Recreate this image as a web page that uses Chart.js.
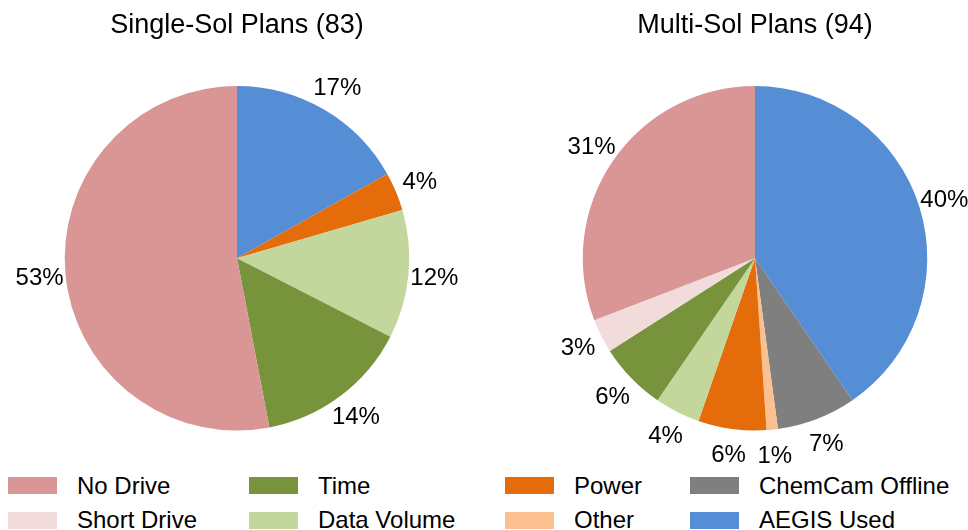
<!DOCTYPE html>
<html>
<head>
<meta charset="utf-8">
<script src="https://cdn.jsdelivr.net/npm/chart.js@4/dist/chart.umd.min.js"></script>
<style>
  html, body { margin: 0; padding: 0; background: #fff; }
  body { width: 968px; height: 530px; position: relative; overflow: hidden; font-family: "Liberation Sans", Arial, sans-serif; }
  .pie { position: absolute; top: 0; width: 484px; height: 470px; }
  #legend .item { position: absolute; height: 24px; display: flex; align-items: center; font-size: 24px; line-height: 24px; color: #000; white-space: nowrap; }
  #legend .box { width: 49px; height: 17px; margin-right: 20px; }
</style>
</head>
<body>
<div class="pie" style="left:0"><canvas id="singleSol"></canvas></div>
<div class="pie" style="left:484px"><canvas id="multiSol"></canvas></div>
<div id="legend"></div>
<script>
// categories in legend order (pies draw them in reverse, clockwise from the top)
const categories = ['No Drive', 'Short Drive', 'Time', 'Data Volume', 'Power', 'Other', 'ChemCam Offline', 'AEGIS Used'];
const colors = ['#D99694', '#F2DCDB', '#77933C', '#C3D69B', '#E46C0A', '#FAC090', '#7F7F7F', '#558ED5'];

// number of plans in each category
const singleSol = [44, 0, 12, 10, 3, 0, 0, 14];
const multiSol = [29, 3, 6, 4, 6, 1, 7, 38];

const FONT = '"Liberation Sans", Arial, sans-serif';

// percentage labels just outside each slice
const outsideLabels = {
  id: 'outsideLabels',
  afterDatasetsDraw(chart) {
    const ctx = chart.ctx;
    const data = chart.data.datasets[0].data;
    const total = data.reduce((a, b) => a + b, 0);
    const meta = chart.getDatasetMeta(0);
    ctx.save();
    ctx.font = '24px ' + FONT;
    ctx.fillStyle = '#000';
    ctx.textAlign = 'center';
    ctx.textBaseline = 'middle';
    meta.data.forEach((arc, i) => {
      if (!data[i]) return;
      const mid = (arc.startAngle + arc.endAngle) / 2;
      const r = arc.outerRadius + 26;
      const x = arc.x + Math.cos(mid) * r;
      const y = arc.y + Math.sin(mid) * r + 1;
      ctx.fillText(Math.round(data[i] / total * 100) + '%', x, y);
    });
    ctx.restore();
  }
};

function makePie(id, counts, title, padLeft, padRight) {
  const vals = counts.slice().reverse();
  const cols = colors.slice().reverse();
  const labs = categories.slice().reverse();
  return new Chart(document.getElementById(id), {
    type: 'pie',
    data: {
      labels: labs,
      datasets: [{
        data: vals,
        backgroundColor: cols,
        borderWidth: 0,
        hoverOffset: 0,
      }]
    },
    options: {
      responsive: false,
      animation: false,
      events: [],
      layout: {
        padding: { left: padLeft, right: padRight, top: 0, bottom: 39.5 }
      },
      plugins: {
        legend: { display: false },
        tooltip: { enabled: false },
        title: {
          display: true,
          text: title + ' (' + counts.reduce((a, b) => a + b, 0) + ')',
          color: '#000',
          font: { family: FONT, size: 27, weight: 'normal', lineHeight: 1.2 },
          padding: { top: 9, bottom: 44.6 }
        }
      }
    },
    plugins: [outsideLabels]
  });
}

document.getElementById('singleSol').width = 484;
document.getElementById('singleSol').height = 470;
document.getElementById('multiSol').width = 484;
document.getElementById('multiSol').height = 470;

makePie('singleSol', singleSol, 'Single-Sol Plans', 64.5, 74.5);
makePie('multiSol', multiSol, 'Multi-Sol Plans', 98.5, 40.5);

// legend: 4 columns x 2 rows, filled column by column
const legendCols = [8, 249, 505, 690];
const legendRows = [473.5, 508];
const legend = document.getElementById('legend');
categories.forEach((name, i) => {
  const item = document.createElement('div');
  item.className = 'item';
  item.style.left = legendCols[Math.floor(i / 2)] + 'px';
  item.style.top = legendRows[i % 2] + 'px';
  const box = document.createElement('span');
  box.className = 'box';
  box.style.background = colors[i];
  const txt = document.createElement('span');
  txt.textContent = name;
  item.appendChild(box);
  item.appendChild(txt);
  legend.appendChild(item);
});
</script>
</body>
</html>
